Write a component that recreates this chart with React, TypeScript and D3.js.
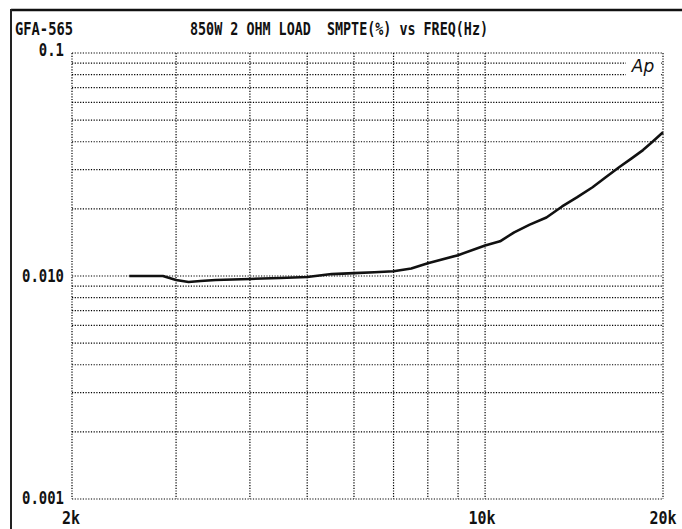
import React from "react";
import * as d3 from "d3";

const freqHz = [2500, 2700, 2850, 3000, 3150, 3300, 3500, 4000, 4500, 5000, 5500, 6000, 6500, 7000, 7500, 8000, 9000, 10000, 10600, 11200, 11900, 12700, 13500, 14300, 15200, 16000, 16900, 17700, 18500, 19200, 20000];
const smptePct = [0.0100, 0.0100, 0.0100, 0.0096, 0.0094, 0.0095, 0.0096, 0.0097, 0.0098, 0.0099, 0.0102, 0.0103, 0.0104, 0.0105, 0.0108, 0.0114, 0.0124, 0.0137, 0.0143, 0.0157, 0.0170, 0.0183, 0.0205, 0.0225, 0.0250, 0.0277, 0.0309, 0.0337, 0.0367, 0.0400, 0.0441];

const xGrid = [2000, 3000, 4000, 5000, 6000, 7000, 8000, 9000, 10000, 20000];
const xTickLabels = [
  { v: 2000, t: "2k" },
  { v: 10000, t: "10k" },
  { v: 20000, t: "20k" },
];
const yGrid = [
  0.001, 0.002, 0.003, 0.004, 0.005, 0.006, 0.007, 0.008, 0.009,
  0.01, 0.02, 0.03, 0.04, 0.05, 0.06, 0.07, 0.08, 0.09, 0.1,
];
const yTickLabels = [
  { v: 0.1, t: "0.1" },
  { v: 0.01, t: "0.010" },
  { v: 0.001, t: "0.001" },
];
const leftTitle = "GFA-565";
const mainTitle = "850W 2 OHM LOAD  SMPTE(%) vs FREQ(Hz)";

const W = 682;
const H = 529;
const plot = { left: 72, right: 663, top: 53, bottom: 499 };
const FONT = "'DejaVu Sans Mono', monospace";

export default function App() {
  const x = d3.scaleLog().domain([2000, 20000]).range([plot.left, plot.right]);
  const y = d3.scaleLog().domain([0.001, 0.1]).range([plot.bottom, plot.top]);
  const line = d3
    .line<number>()
    .x((_, i) => x(freqHz[i]))
    .y((d) => y(d))
    .curve(d3.curveLinear);

  const dot = { stroke: "#000", strokeWidth: 1.2, strokeDasharray: "1.2 1.5" };

  return (
    <svg
      width={W}
      height={H}
      style={{ position: "fixed", left: 0, top: 0, background: "#fff" }}
    >
      <rect x={0} y={0} width={W} height={H} fill="#fff" />
      {/* frame */}
      <line x1={11} y1={10} x2={W} y2={10} stroke="#111" strokeWidth={2.5} />
      <line x1={11} y1={9} x2={11} y2={H} stroke="#222" strokeWidth={2} />

      {/* horizontal grid */}
      {yGrid.map((v) => (
        <line
          key={"h" + v}
          x1={plot.left}
          x2={plot.right}
          y1={y(v)}
          y2={y(v)}
          {...dot}
        />
      ))}
      {/* vertical grid */}
      {xGrid.map((v) => (
        <line
          key={"v" + v}
          x1={x(v)}
          x2={x(v)}
          y1={plot.top}
          y2={plot.bottom}
          {...dot}
        />
      ))}

      {/* Ap logo */}
      <rect x={626} y={56} width={35} height={22} fill="#fff" />
      <text
        x={643}
        y={72}
        textAnchor="middle"
        fontFamily="'DejaVu Sans', sans-serif"
        fontStyle="italic"
        fontSize={17}
        fill="#111"
      >
        Ap
      </text>

      {/* curve */}
      <path
        d={line(smptePct) || ""}
        fill="none"
        stroke="#111"
        strokeWidth={2.6}
        strokeLinejoin="round"
      />

      {/* titles */}
      <text
        x={15}
        y={35}
        fontFamily={FONT}
        fontWeight="bold"
        fontSize={18}
        textLength={58}
        lengthAdjust="spacingAndGlyphs"
        fill="#111"
      >
        {leftTitle}
      </text>
      <text
        x={190}
        y={35}
        fontFamily={FONT}
        fontWeight="bold"
        fontSize={18}
        textLength={298}
        lengthAdjust="spacingAndGlyphs"
        fill="#111"
        style={{ whiteSpace: "pre" }}
      >
        {mainTitle}
      </text>

      {/* y tick labels */}
      {yTickLabels.map((d) => (
        <text
          key={d.t}
          x={64}
          y={y(d.v) + (d.v === 0.1 ? 3 : d.v === 0.001 ? 5 : 6)}
          textAnchor="end"
          fontFamily={FONT}
          fontWeight="bold"
          fontSize={17.5}
          textLength={d.t.length * 8.4}
          lengthAdjust="spacingAndGlyphs"
          fill="#111"
        >
          {d.t}
        </text>
      ))}

      {/* x tick labels */}
      {xTickLabels.map((d) => (
        <text
          key={d.t}
          x={x(d.v) + (d.v === 2000 ? -1 : d.v === 10000 ? -3 : 0)}
          y={524}
          textAnchor="middle"
          fontFamily={FONT}
          fontWeight="bold"
          fontSize={17.5}
          textLength={d.t.length * 9}
          lengthAdjust="spacingAndGlyphs"
          fill="#111"
        >
          {d.t}
        </text>
      ))}
    </svg>
  );
}
